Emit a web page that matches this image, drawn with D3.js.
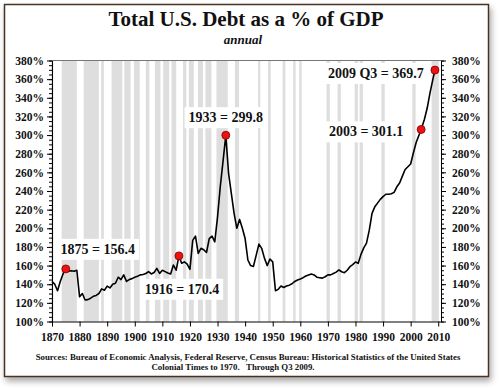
<!DOCTYPE html>
<html><head><meta charset="utf-8">
<script src="https://cdn.jsdelivr.net/npm/d3@7"></script>
<style>html,body{margin:0;padding:0;background:#fff;}svg{display:block;}</style>
</head><body>
<script>
// ---- data ----
const years = [1870,1871,1872,1873,1874,1875,1876,1877,1878,1879,1880,1881,1882,1883,1884,1885,1886,1887,1888,1889,
1890,1891,1892,1893,1894,1895,1896,1897,1898,1899,1900,1901,1902,1903,1904,1905,1906,1907,1908,1909,
1910,1911,1912,1913,1914,1915,1916,1917,1918,1919,1920,1921,1922,1923,1924,1925,1926,1927,1928,1929,
1930,1931,1932,1933,1934,1935,1936,1937,1938,1939,1940,1941,1942,1943,1944,1945,1946,1947,1948,1949,
1950,1951,1952,1953,1954,1955,1956,1957,1958,1959,1960,1961,1962,1963,1964,1965,1966,1967,1968,1969,
1970,1971,1972,1973,1974,1975,1976,1977,1978,1979,1980,1981,1982,1983,1984,1985,1986,1987,1988,1989,
1990,1991,1992,1993,1994,1995,1996,1997,1998,1999,2000,2001,2002,2003.8,2005,2006,2007,2008,2008.8];
const debtPct = [142.7,140,133,143,151,156.4,154,154.5,154,155,126.5,130,123,123.5,125,127,128,130,135,133.5,
138,136,140,141,147.5,145,150,143,145,146,147.5,148.5,150,150.5,151.5,153.5,151,152.5,157,151.5,
155,153.5,152,151,160.5,155,170.4,162.5,164,161.5,156,187,191.5,173,178.5,177,174,189,191.5,185.5,
212,245,272,299.8,259,237.5,216,200,209.5,200,189,166,160,159,171,183,178.5,168,160,167,
164,133,134.5,138,136.5,138,139,140.5,143,144.5,145.5,147,148.8,150,151,150,147.5,147,146.5,148,
150,150,151.5,153,155.3,153.4,152.4,155,158.8,161,163.8,162.4,172,179,184,198,216,223,227,231,
234,236.5,236.5,237,238.5,244.5,248.5,256,263,266,269,281,292,306,317,329,345,359,369.7];

const recessionStart = [1869.7,1873.5,1881.5,1887.8,1891.6,1896.2,1899.7,1904.0,1907.3,1910.3,1913.3,1917.5,1919.6,1922.9,1925.6,1929.6,1936.3,1944.7,1948.3,1953.6,1957.4,1959.6,1969.5,1973.5,1979.7,1981.5,1989.4,2000.6,2007.6];
const recessionEnd   = [1870.5,1879.0,1887.0,1888.8,1895.5,1898.5,1901.8,1905.3,1909.3,1912.5,1915.0,1918.7,1921.4,1924.7,1927.8,1933.7,1937.8,1945.5,1949.3,1954.6,1958.3,1960.5,1970.7,1974.7,1980.9,1982.7,1990.6,2001.8,2010.2];

const markerYears = [1875,1916,1933,2003.8,2008.8];
const markerLabels = ["1875 = 156.4","1916 = 170.4","1933 = 299.8","2003 = 301.1","2009 Q3 = 369.7"];

const yTickValues = d3.range(100, 381, 20);
const xTickValues = d3.range(1870, 2011, 10);

const titleText = "Total U.S. Debt as a % of GDP";
const subtitleText = "annual";
const sourceLines = ["Sources: Bureau of Economic Analysis, Federal Reserve, Census Bureau: Historical Statistics of the United States",
                     "Colonial Times to 1970.   Through Q3 2009."];

// ---- layout ----
const W = 499, H = 388;
const L = 52, R = 441, T = 60.5, B = 321.5;
const labelOffsets = [[32,-20],[3,33],[0,-18],[-55,2],[-59,3]];
const serif = "'Liberation Serif','Times New Roman',serif";

const svg = d3.select("body").append("svg").attr("width", W).attr("height", H);
const defs = svg.append("defs");
const f = defs.append("filter").attr("id","sh").attr("x","-5%").attr("y","-5%").attr("width","115%").attr("height","115%");
f.append("feDropShadow").attr("dx",2).attr("dy",4).attr("stdDeviation",3).attr("flood-color","#000").attr("flood-opacity",0.35);

svg.append("rect").attr("x",4.5).attr("y",4.5).attr("width",484).attr("height",372)
  .attr("fill","#fff").attr("stroke","#4a3222").attr("stroke-width",1.5).attr("filter","url(#sh)");

const x = d3.scaleLinear().domain([1870, 2011]).range([L, R]);
const y = d3.scaleLinear().domain([100, 380]).range([B, T]);

// recession bands
svg.append("g").selectAll("rect").data(recessionStart).join("rect")
  .attr("x", (d,i) => x(d)).attr("width", (d,i) => Math.max(0, Math.min(x(recessionEnd[i]), R) - x(d)))
  .attr("y", T).attr("height", B - T).attr("fill", "#dedede");

// top border
svg.append("line").attr("x1", L).attr("x2", R).attr("y1", T).attr("y2", T).attr("stroke", "#777").attr("stroke-width", 1);

// label boxes + text
const pts = markerYears.map(yr => { const i = years.indexOf(yr); return [yr, debtPct[i]]; });
const lab = svg.append("g");
pts.forEach((p, i) => {
  const cx = x(p[0]) + labelOffsets[i][0], cy = y(p[1]) + labelOffsets[i][1];
  const g = lab.append("g");
  const t = g.append("text").attr("x", cx).attr("y", cy).attr("dy", "0.35em").attr("text-anchor", "middle")
    .attr("font-family", serif).attr("font-weight", "bold").attr("font-size", 14).attr("fill", "#111").text(markerLabels[i]);
  const bb = t.node().getBBox();
  g.insert("rect", "text").attr("x", bb.x - 4).attr("y", bb.y - 3).attr("width", bb.width + 8).attr("height", bb.height + 6).attr("fill", "#fff");
});

// line
svg.append("path").datum(years.map((yr, i) => [yr, debtPct[i]]))
  .attr("d", d3.line().x(d => x(d[0])).y(d => y(d[1])))
  .attr("fill", "none").attr("stroke", "#000").attr("stroke-width", 1.6).attr("stroke-linejoin", "round");

// markers
svg.append("g").selectAll("circle").data(pts).join("circle")
  .attr("cx", d => x(d[0])).attr("cy", d => y(d[1])).attr("r", 4)
  .attr("fill", "#ee1111").attr("stroke", "#7a0000").attr("stroke-width", 0.8);

// axes
function styleAxis(g) {
  g.selectAll("path").attr("stroke", "#000");
  g.selectAll("line").attr("stroke", "#000");
  g.selectAll("text").attr("font-family", serif).attr("font-weight", "bold").attr("font-size", 11.5).attr("fill", "#111");
}
const minorVals = d3.range(100, 381, 5);
svg.append("g").attr("transform", `translate(${L},0)`).call(d3.axisLeft(y).tickValues(minorVals).tickSize(3).tickFormat("").tickSizeOuter(0)).call(styleAxis);
svg.append("g").attr("transform", `translate(${L},0)`).call(d3.axisLeft(y).tickValues(yTickValues).tickSize(5).tickSizeOuter(0).tickPadding(3).tickFormat(d => d + "%")).call(styleAxis);
svg.append("g").attr("transform", `translate(${R},0)`).call(d3.axisRight(y).tickValues(minorVals).tickSize(3).tickFormat("").tickSizeOuter(0)).call(styleAxis);
svg.append("g").attr("transform", `translate(${R},0)`).call(d3.axisRight(y).tickValues(yTickValues).tickSize(5).tickSizeOuter(0).tickPadding(6).tickFormat(d => d + "%")).call(styleAxis);
svg.append("g").attr("transform", `translate(0,${B})`).call(d3.axisBottom(x).tickValues(xTickValues).tickSize(5).tickSizeOuter(0).tickPadding(6).tickFormat(d3.format("d"))).call(styleAxis);

// titles
svg.append("text").attr("x", 246).attr("y", 26).attr("text-anchor", "middle").attr("font-family", serif)
  .attr("font-weight", "bold").attr("font-size", 21).attr("fill", "#111").text(titleText);
svg.append("text").attr("x", 243).attr("y", 44).attr("text-anchor", "middle").attr("font-family", serif)
  .attr("font-style", "italic").attr("font-weight", "bold").attr("font-size", 13).attr("fill", "#111").text(subtitleText);
svg.append("text").attr("x", 248).attr("y", 360).attr("text-anchor", "middle").attr("font-family", serif)
  .attr("font-weight", "bold").attr("font-size", 8.8).attr("fill", "#111").text(sourceLines[0]);
svg.append("text").attr("x", 233).attr("y", 370).attr("text-anchor", "middle").attr("font-family", serif)
  .attr("font-weight", "bold").attr("font-size", 8.8).attr("fill", "#111").style("white-space","pre").text(sourceLines[1]);
</script>
</body></html>
